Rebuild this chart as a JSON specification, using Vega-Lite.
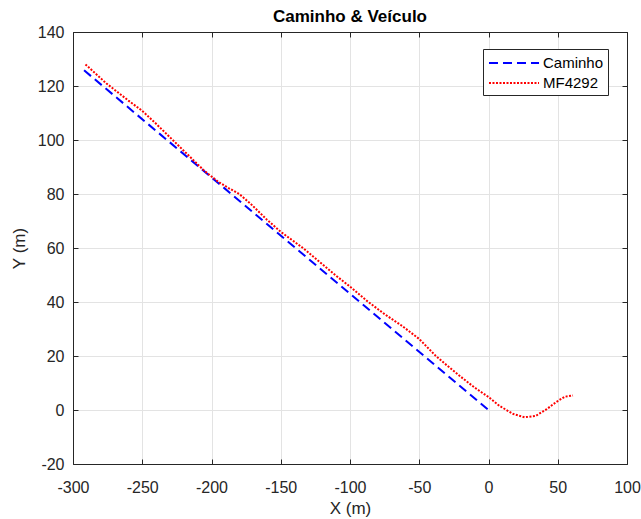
{
  "$schema": "https://vega.github.io/schema/vega-lite/v6.json",
  "width": 554,
  "height": 432,
  "autosize": {"type": "none"},
  "padding": {"left": 73, "top": 32, "right": 14, "bottom": 55},
  "background": "white",
  "config": {
    "font": "Liberation Sans",
    "view": {"stroke": "#262626", "strokeWidth": 1},
    "axis": {
      "domainColor": "#262626",
      "tickColor": "#262626",
      "labelColor": "#262626",
      "titleColor": "#262626",
      "labelFont": "Liberation Sans",
      "titleFont": "Liberation Sans",
      "labelFontSize": 16,
      "titleFontSize": 17,
      "titleFontWeight": "normal",
      "gridColor": "#e3e3e3",
      "gridOpacity": 1,
      "tickSize": -5,
      "labelExpr": "datum.value < 0 ? '-' + abs(datum.value) : '' + datum.value"
    }
  },
  "title": {
    "text": "Caminho & Veículo",
    "font": "Liberation Sans",
    "fontSize": 17,
    "fontWeight": "bold",
    "color": "#000000",
    "offset": -2
  },
  "datasets": {
    "paths": [
      {"serie": "Caminho", "i": 0, "x": -292, "y": 125.8},
      {"serie": "Caminho", "i": 1, "x": 0, "y": 0},
      {"serie": "MF4292", "i": 0, "x": -291, "y": 128},
      {"serie": "MF4292", "i": 1, "x": -276, "y": 121},
      {"serie": "MF4292", "i": 2, "x": -260, "y": 114.6},
      {"serie": "MF4292", "i": 3, "x": -250, "y": 110.8},
      {"serie": "MF4292", "i": 4, "x": -240, "y": 106},
      {"serie": "MF4292", "i": 5, "x": -229, "y": 100.5},
      {"serie": "MF4292", "i": 6, "x": -215, "y": 93.5},
      {"serie": "MF4292", "i": 7, "x": -205, "y": 88.5},
      {"serie": "MF4292", "i": 8, "x": -200, "y": 86.5},
      {"serie": "MF4292", "i": 9, "x": -195, "y": 84.5},
      {"serie": "MF4292", "i": 10, "x": -188, "y": 82.3},
      {"serie": "MF4292", "i": 11, "x": -180, "y": 80},
      {"serie": "MF4292", "i": 12, "x": -172, "y": 76.5},
      {"serie": "MF4292", "i": 13, "x": -160, "y": 70.5},
      {"serie": "MF4292", "i": 14, "x": -150, "y": 66},
      {"serie": "MF4292", "i": 15, "x": -134, "y": 60},
      {"serie": "MF4292", "i": 16, "x": -120, "y": 54},
      {"serie": "MF4292", "i": 17, "x": -110, "y": 49.7},
      {"serie": "MF4292", "i": 18, "x": -100, "y": 45.7},
      {"serie": "MF4292", "i": 19, "x": -88, "y": 40.5},
      {"serie": "MF4292", "i": 20, "x": -75, "y": 35.5},
      {"serie": "MF4292", "i": 21, "x": -62, "y": 31},
      {"serie": "MF4292", "i": 22, "x": -50, "y": 26.3},
      {"serie": "MF4292", "i": 23, "x": -38, "y": 20},
      {"serie": "MF4292", "i": 24, "x": -30, "y": 16.5},
      {"serie": "MF4292", "i": 25, "x": -20, "y": 12.3},
      {"serie": "MF4292", "i": 26, "x": -10, "y": 8.3},
      {"serie": "MF4292", "i": 27, "x": 0, "y": 4.8},
      {"serie": "MF4292", "i": 28, "x": 8, "y": 1.5},
      {"serie": "MF4292", "i": 29, "x": 18, "y": -1.5},
      {"serie": "MF4292", "i": 30, "x": 26, "y": -2.7},
      {"serie": "MF4292", "i": 31, "x": 34, "y": -2.2},
      {"serie": "MF4292", "i": 32, "x": 42, "y": 0.3},
      {"serie": "MF4292", "i": 33, "x": 49, "y": 3},
      {"serie": "MF4292", "i": 34, "x": 55, "y": 4.9},
      {"serie": "MF4292", "i": 35, "x": 61, "y": 5.4}
    ]
  },
  "data": {"name": "paths"},
  "layer": [
    {
      "mark": {"type": "line", "strokeWidth": 2, "clip": true},
      "encoding": {
        "x": {
          "field": "x", "type": "quantitative",
          "scale": {"domain": [-300, 100], "nice": false, "zero": false},
          "axis": {"title": "X (m)", "values": [-300, -250, -200, -150, -100, -50, 0, 50, 100], "labelPadding": 20, "titlePadding": 5, "labelFlush": false}
        },
        "y": {
          "field": "y", "type": "quantitative",
          "scale": {"domain": [-20, 140], "nice": false, "zero": false},
          "axis": {"title": "Y (m)", "values": [-20, 0, 20, 40, 60, 80, 100, 120, 140], "labelPadding": 14, "titlePadding": 9, "labelFlush": false}
        },
        "color": {
          "field": "serie", "type": "nominal",
          "scale": {"domain": ["Caminho", "MF4292"], "range": ["#0000ff", "#ff0000"]},
          "legend": {
            "title": null,
            "orient": "none",
            "legendX": 410,
            "legendY": 17,
            "symbolType": "M-0.89,0H4.67",
            "symbolSize": 324,
            "symbolStrokeWidth": 2,
            "labelFontSize": 15,
            "labelColor": "#000000",
            "labelFont": "Liberation Sans",
            "fillColor": "white",
            "strokeColor": "#262626",
            "padding": 4,
            "rowPadding": 2,
            "labelOffset": 36
          }
        },
        "strokeDash": {
          "field": "serie", "type": "nominal",
          "scale": {"domain": ["Caminho", "MF4292"], "range": [[9, 5], [2, 1.5]]},
          "legend": null
        },
        "order": {"field": "i", "type": "quantitative"}
      }
    },
    {
      "mark": {"type": "line", "opacity": 0},
      "encoding": {
        "x": {
          "field": "x", "type": "quantitative",
          "axis": {"orient": "top", "title": null, "labels": false, "grid": false, "values": [-300, -250, -200, -150, -100, -50, 0, 50, 100]}
        },
        "y": {
          "field": "y", "type": "quantitative",
          "axis": {"orient": "right", "title": null, "labels": false, "grid": false, "values": [-20, 0, 20, 40, 60, 80, 100, 120, 140]}
        },
        "detail": {"field": "serie", "type": "nominal"}
      }
    }
  ],
  "resolve": {"axis": {"x": "independent", "y": "independent"}}
}
